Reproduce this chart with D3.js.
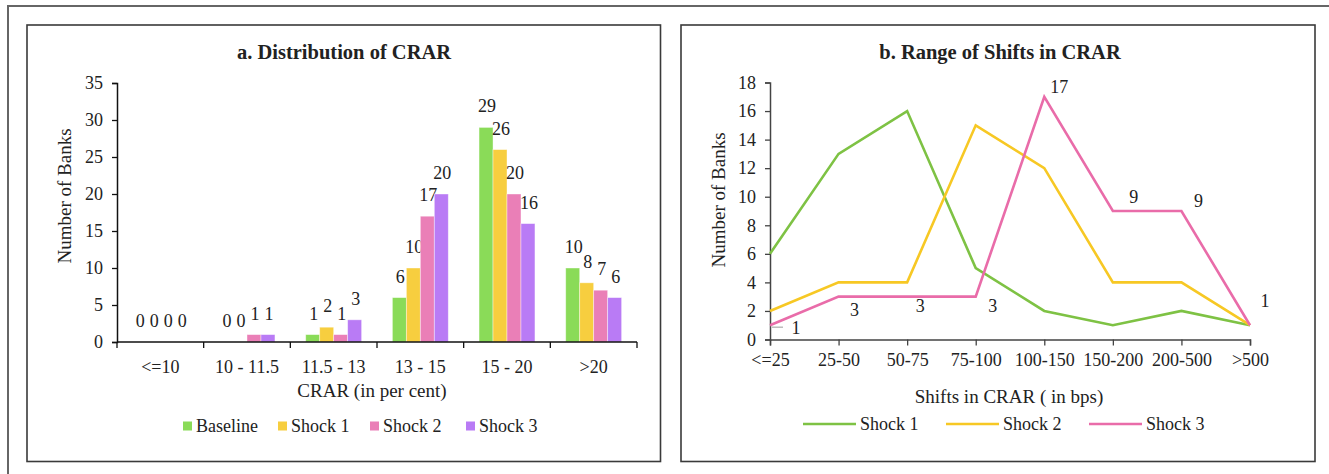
<!DOCTYPE html>
<html>
<head>
<meta charset="utf-8">
<script src="https://cdn.jsdelivr.net/npm/d3@7"></script>
<style>
  html, body { margin: 0; padding: 0; background: #fff; }
  svg { display: block; }
  text { font-family: "Liberation Serif", "DejaVu Serif", serif; fill: #222; }
</style>
</head>
<body>
<svg id="chart" width="1329" height="474"></svg>
<script>
// ---------- Data: panel a ----------
const crarCategories = ["<=10", "10 - 11.5", "11.5 - 13", "13 - 15", "15 - 20", ">20"];
const barSeries = ["Baseline", "Shock 1", "Shock 2", "Shock 3"];
const baselineValues = [0, 0, 1, 6, 29, 10];
const shock1Values   = [0, 0, 2, 10, 26, 8];
const shock2Values   = [0, 1, 1, 17, 20, 7];
const shock3Values   = [0, 1, 3, 20, 16, 6];
const barYTicks = [0, 5, 10, 15, 20, 25, 30, 35];

// ---------- Data: panel b ----------
const shiftCategories = ["<=25", "25-50", "50-75", "75-100", "100-150", "150-200", "200-500", ">500"];
const lineSeries = ["Shock 1", "Shock 2", "Shock 3"];
const lineShock1 = [6, 13, 16, 5, 2, 1, 2, 1];
const lineShock2 = [2, 4, 4, 15, 12, 4, 4, 1];
const lineShock3 = [1, 3, 3, 3, 17, 9, 9, 1];
const lineYTicks = [0, 2, 4, 6, 8, 10, 12, 14, 16, 18];

// label placement offsets (layout only) for Shock 3 data labels in panel b
const shock3LabelOffsets = [[26, 3], [16, 13], [13, 9], [17, 9], [15, -10], [21, -14], [17, -10], [15, -24]];

const barColors = ["#8ADB58", "#F7CE3F", "#EA7FB7", "#B97BF5"];
const lineColors = ["#7EC244", "#F7C824", "#E96CA9"];

const FS_TICK = "18px", FS_LABEL = "18px", FS_TITLE = "20.5px", FS_AXT = "19px", FS_LEG = "18px";

const svg = d3.select("#chart");

// outer frame (top and left edges visible)
svg.append("path")
  .attr("d", "M8,474 L8,6 L1329,6")
  .attr("fill", "none").attr("stroke", "#666").attr("stroke-width", 2);

// panel boxes
svg.append("rect").attr("x", 27).attr("y", 25).attr("width", 633.5).attr("height", 436.5)
  .attr("fill", "none").attr("stroke", "#3a3a3a").attr("stroke-width", 1.6);
svg.append("rect").attr("x", 681).attr("y", 25).attr("width", 634).attr("height", 436.5)
  .attr("fill", "none").attr("stroke", "#3a3a3a").attr("stroke-width", 1.6);

// ================= Panel a =================
const gA = svg.append("g");
const xA = d3.scaleBand().domain(crarCategories).range([117, 637]).padding(0);
const xInner = d3.scaleBand().domain(barSeries).range([0, xA.bandwidth()]).paddingInner(0).paddingOuter(1.1);
const yA = d3.scaleLinear().domain([0, 35]).range([342, 83]);

gA.append("text").attr("x", 344).attr("y", 59).attr("text-anchor", "middle")
  .style("font-weight", "bold").style("font-size", FS_TITLE).text("a. Distribution of CRAR");

const barData = [baselineValues, shock1Values, shock2Values, shock3Values];

barSeries.forEach((s, si) => {
  const vals = barData[si];
  gA.append("g").selectAll("rect").data(crarCategories).join("rect")
    .attr("x", c => xA(c) + xInner(s))
    .attr("y", (c, i) => yA(vals[i]))
    .attr("width", xInner.bandwidth())
    .attr("height", (c, i) => yA(0) - yA(vals[i]))
    .attr("fill", barColors[si])
    .attr("stroke", "#fff").attr("stroke-opacity", 0.5).attr("stroke-width", 0.8);
  gA.append("g").selectAll("text").data(crarCategories).join("text")
    .attr("x", c => xA(c) + xInner(s) + xInner.bandwidth() / 2 + 1)
    .attr("y", (c, i) => yA(vals[i]) - 15)
    .attr("text-anchor", "middle")
    .style("font-size", FS_LABEL)
    .text((c, i) => vals[i]);
});

// y axis
const yAxisA = gA.append("g").attr("transform", "translate(117,0)")
  .call(d3.axisLeft(yA).tickValues(barYTicks).tickSize(5).tickPadding(9));
yAxisA.select(".domain").attr("stroke", "#111").attr("stroke-width", 1.5);
yAxisA.selectAll(".tick line").attr("stroke", "#111").attr("stroke-width", 1.3);
yAxisA.selectAll(".tick text").style("font-size", FS_TICK).attr("fill", "#222");

// x axis with ticks at category boundaries
const xAxisA = gA.append("g").attr("transform", "translate(0,342)");
xAxisA.append("line").attr("x1", 117).attr("x2", 637).attr("stroke", "#111").attr("stroke-width", 1.5);
const boundaries = crarCategories.map(c => xA(c)).concat([xA(crarCategories[crarCategories.length - 1]) + xA.bandwidth()]);
xAxisA.selectAll("line.tk").data(boundaries).join("line").attr("class", "tk")
  .attr("x1", d => d).attr("x2", d => d).attr("y1", 0).attr("y2", 6)
  .attr("stroke", "#111").attr("stroke-width", 1.3);
xAxisA.selectAll("text").data(crarCategories).join("text")
  .attr("x", c => xA(c) + xA.bandwidth() / 2).attr("y", 31)
  .attr("text-anchor", "middle").style("font-size", FS_TICK).text(c => c);

gA.append("text").attr("x", 372).attr("y", 397).attr("text-anchor", "middle")
  .style("font-size", FS_AXT).text("CRAR (in per cent)");
gA.append("text").attr("transform", "translate(71,196) rotate(-90)").attr("text-anchor", "middle")
  .style("font-size", FS_AXT).text("Number of Banks");

// legend a
const legA = gA.append("g");
const legAX = [183, 278, 370, 466];
barSeries.forEach((s, i) => {
  legA.append("rect").attr("x", legAX[i]).attr("y", 421.5).attr("width", 9).attr("height", 9).attr("fill", barColors[i]);
  legA.append("text").attr("x", legAX[i] + 13).attr("y", 432).style("font-size", FS_LEG).text(s);
});

// ================= Panel b =================
const gB = svg.append("g");
const xB = d3.scalePoint().domain(shiftCategories).range([770, 1250]).padding(0);
const yB = d3.scaleLinear().domain([0, 18]).range([339.5, 82.5]);

gB.append("text").attr("x", 1000).attr("y", 59).attr("text-anchor", "middle")
  .style("font-weight", "bold").style("font-size", FS_TITLE).text("b. Range of Shifts in CRAR");

const yAxisB = gB.append("g").attr("transform", "translate(770,0)")
  .call(d3.axisLeft(yB).tickValues(lineYTicks).tickSize(5).tickPadding(9));
yAxisB.select(".domain").attr("stroke", "#444").attr("stroke-width", 1.5);
yAxisB.selectAll(".tick line").attr("stroke", "#444").attr("stroke-width", 1.3);
yAxisB.selectAll(".tick text").style("font-size", FS_TICK).attr("fill", "#222");

const xAxisB = gB.append("g").attr("transform", "translate(0,339.5)")
  .call(d3.axisBottom(xB).tickSize(6).tickPadding(8));
xAxisB.select(".domain").attr("stroke", "#444").attr("stroke-width", 1.5);
xAxisB.selectAll(".tick line").attr("stroke", "#444").attr("stroke-width", 1.3);
xAxisB.selectAll(".tick text").style("font-size", FS_TICK).attr("fill", "#222");

const lineData = [lineShock1, lineShock2, lineShock3];
const lineGen = d3.line().x((d, i) => xB(shiftCategories[i])).y(d => yB(d));
lineSeries.forEach((s, si) => {
  gB.append("path").datum(lineData[si]).attr("d", lineGen)
    .attr("fill", "none").attr("stroke", lineColors[si]).attr("stroke-width", 2.6)
    .attr("stroke-linejoin", "miter");
});

// Shock 3 data labels
gB.append("line").attr("x1", xB(shiftCategories[0]) + 2).attr("x2", xB(shiftCategories[0]) + 13)
  .attr("y1", yB(lineShock3[0]) + 2).attr("y2", yB(lineShock3[0]) + 2)
  .attr("stroke", "#bbb").attr("stroke-width", 1.5);
gB.append("g").selectAll("text").data(lineShock3).join("text")
  .attr("x", (d, i) => xB(shiftCategories[i]) + shock3LabelOffsets[i][0])
  .attr("y", (d, i) => yB(d) + shock3LabelOffsets[i][1] + 6)
  .attr("text-anchor", "middle").style("font-size", FS_LABEL).text(d => d);

gB.append("text").attr("x", 1009).attr("y", 403).attr("text-anchor", "middle")
  .style("font-size", FS_AXT).text("Shifts in CRAR ( in bps)");
gB.append("text").attr("transform", "translate(725,200) rotate(-90)").attr("text-anchor", "middle")
  .style("font-size", FS_AXT).text("Number of Banks");

const legBX = [803, 946, 1089];
lineSeries.forEach((s, i) => {
  gB.append("line").attr("x1", legBX[i]).attr("x2", legBX[i] + 53).attr("y1", 424).attr("y2", 424)
    .attr("stroke", lineColors[i]).attr("stroke-width", 2.6);
  gB.append("text").attr("x", legBX[i] + 57).attr("y", 430).style("font-size", FS_LEG).text(s);
});
</script>
</body>
</html>
